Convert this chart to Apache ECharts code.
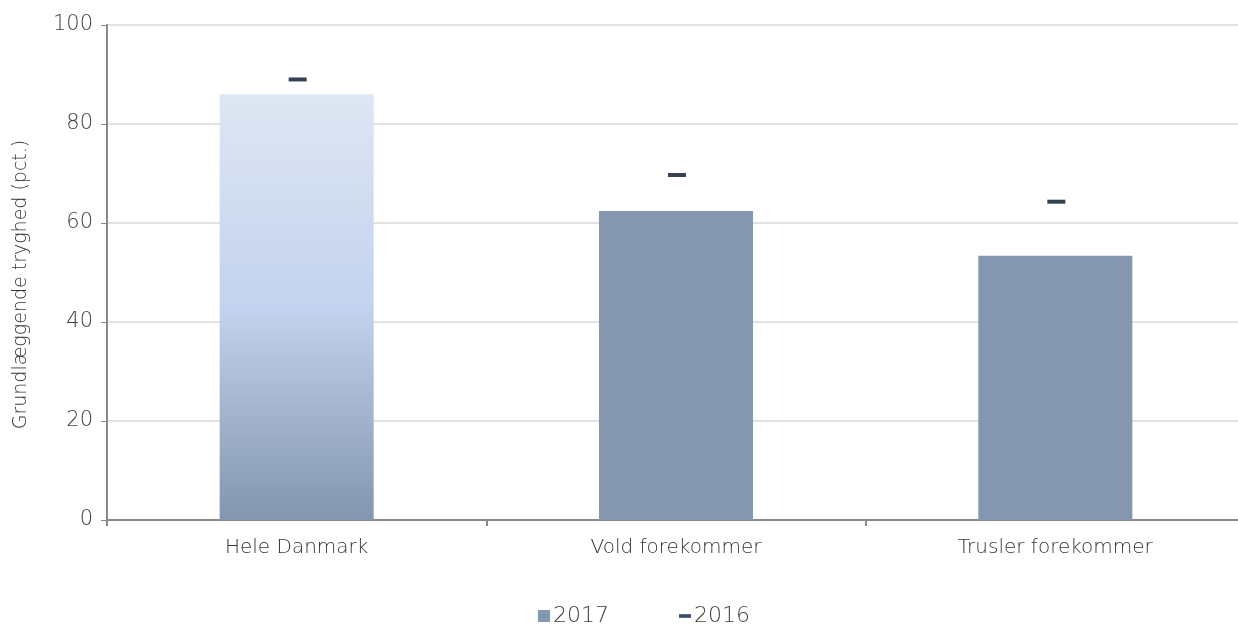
<!DOCTYPE html>
<html><head><meta charset="utf-8">
<script src="https://cdn.jsdelivr.net/npm/echarts@6/dist/echarts.min.js"></script>
<style>html,body{margin:0;padding:0;background:#fff}#c{width:1238px;height:626px}</style>
</head><body><div id="c"></div>
<script>
const categories = ['Hele Danmark', 'Vold forekommer', 'Trusler forekommer'];
const values2017 = [86, 62.4, 53.4];
const values2016 = [89, 69.7, 64.3];
const yTicks = [0, 20, 40, 60, 80, 100];

const font = 'DejaVu Sans';
const fw = 200;
const chart = echarts.init(document.getElementById('c'), null, {renderer: 'canvas'});
const gradient = new echarts.graphic.LinearGradient(0, 0, 0, 1, [
  {offset: 0, color: '#dfe6f3'},
  {offset: 0.5, color: '#c3d2ee'},
  {offset: 1, color: '#8395b0'}
]);
chart.setOption({
  animation: false,
  textStyle: {fontFamily: font},
  grid: {left: 107, right: -7, top: 25, bottom: 106, containLabel: false, outerBoundsMode: 'none'},
  legend: {
    top: 600, left: 533, itemGap: 70, itemWidth: 12, itemHeight: 12,
    textStyle: {fontSize: 22, color: '#404040', fontFamily: font, fontWeight: fw, padding: [0,0,0,-2]},
    data: [
      {name: '2017', icon: 'rect', itemStyle: {color: '#8496b0'}},
      {name: '2016', icon: 'path://M0,0 L13,0 L13,4 L0,4 Z', itemStyle: {color: '#0b2341'}}
    ]
  },
  xAxis: {
    type: 'category', data: categories,
    axisLine: {lineStyle: {color: '#898989', width: 2}},
    axisTick: {show: true, length: 6, lineStyle: {color: '#898989', width: 2}},
    axisLabel: {fontSize: 20, color: '#333', fontWeight: fw, margin: 18, fontFamily: font},
    splitLine: {show: false}
  },
  yAxis: {
    type: 'value', min: 0, max: 100, interval: 20,
    name: 'Grundlæggende tryghed (pct.)', nameLocation: 'middle', nameGap: 76, nameRotate: 90,
    nameTextStyle: {fontSize: 19, color: '#333', fontWeight: fw, fontFamily: font, padding: [0, 24, 0, 0]},
    axisLine: {show: true, lineStyle: {color: '#898989', width: 2}},
    axisTick: {show: true, length: 6, lineStyle: {color: '#898989', width: 1}},
    axisLabel: {fontSize: 21, color: '#404040', fontWeight: fw, margin: 14, fontFamily: font,
      formatter: v => yTicks.includes(v) ? String(v) : ''},
    splitLine: {lineStyle: {color: '#d9d9d9', width: 1.5}}
  },
  series: [
    {
      name: '2017', type: 'bar', barWidth: '40.6%',
      data: values2017.map((v, i) => i === 0 ? {value: v, itemStyle: {color: gradient}} : v),
      itemStyle: {color: '#8496b0'}
    },
    {
      name: '2016', type: 'scatter', data: values2016,
      symbol: 'rect', symbolSize: [18, 4], symbolOffset: [1, 0],
      itemStyle: {color: '#021026'}, z: 5
    }
  ]
});
</script></body></html>
